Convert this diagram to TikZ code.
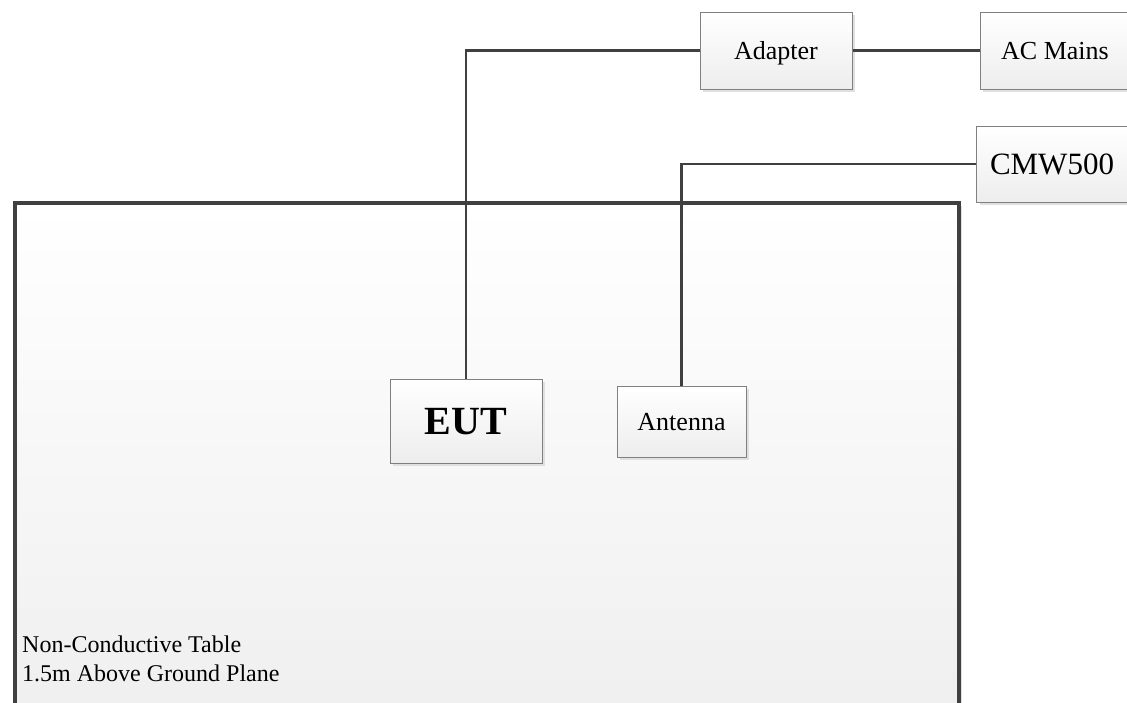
\documentclass[tikz,border=0pt]{standalone}
\usepackage{fontspec}
\setmainfont{Liberation Serif}
\usetikzlibrary{shadows}
\tikzset{
  unit/.style={draw=black!50, line width=1pt, top color=white, bottom color=black!7,
    drop shadow={shadow xshift=3pt, shadow yshift=-3pt, fill=black!12, opacity=1},
    inner sep=0pt, text height=17pt, text depth=0pt, font=\fontsize{26}{30}\selectfont},
  cable/.style={draw=black!75, line width=2.2pt},
}
\begin{document}
\begin{tikzpicture}[x=1pt,y=-1pt]
  \useasboundingbox (0,0) rectangle (1127,702);
  % the table
  \node[draw=black!75, line width=3.5pt, top color=white, bottom color=black!7,
    drop shadow={shadow xshift=3pt, shadow yshift=-3pt, fill=black!12, opacity=1},
    anchor=north west, minimum width=944pt, minimum height=578pt, inner sep=0pt]
    (table) at (13,201) {};
  \node[anchor=north west, align=left, inner sep=0pt, font=\fontsize{24}{29}\selectfont]
    (tabletext) at (22,636) {Non-Conductive Table\\1.5m Above Ground Plane};
  % units
  \node[unit, minimum width=152pt, minimum height=77pt] (adapter) at (776,50.5) {Adapter};
  \node[unit, minimum width=150pt, minimum height=77pt] (mains) at (1055,50.5) {AC Mains};
  \node[unit, minimum width=151pt, minimum height=76pt, text height=20.5pt,
    font=\fontsize{31}{36}\selectfont] (cmw) at (1052,164) {CMW500};
  \node[unit, minimum width=152pt, minimum height=84pt, text height=26.5pt,
    font=\fontsize{40}{46}\selectfont\bfseries] (eut) at (466,421) {EUT};
  \node[unit, minimum width=129pt, minimum height=71pt] (antenna) at (681.5,421.5) {Antenna};
  % cables
  \draw[cable] (adapter.west) -| (eut.north);
  \draw[cable] (adapter.east) -- (mains.west);
  \draw[cable] (cmw.west) -| (antenna.north);
\end{tikzpicture}
\end{document}
